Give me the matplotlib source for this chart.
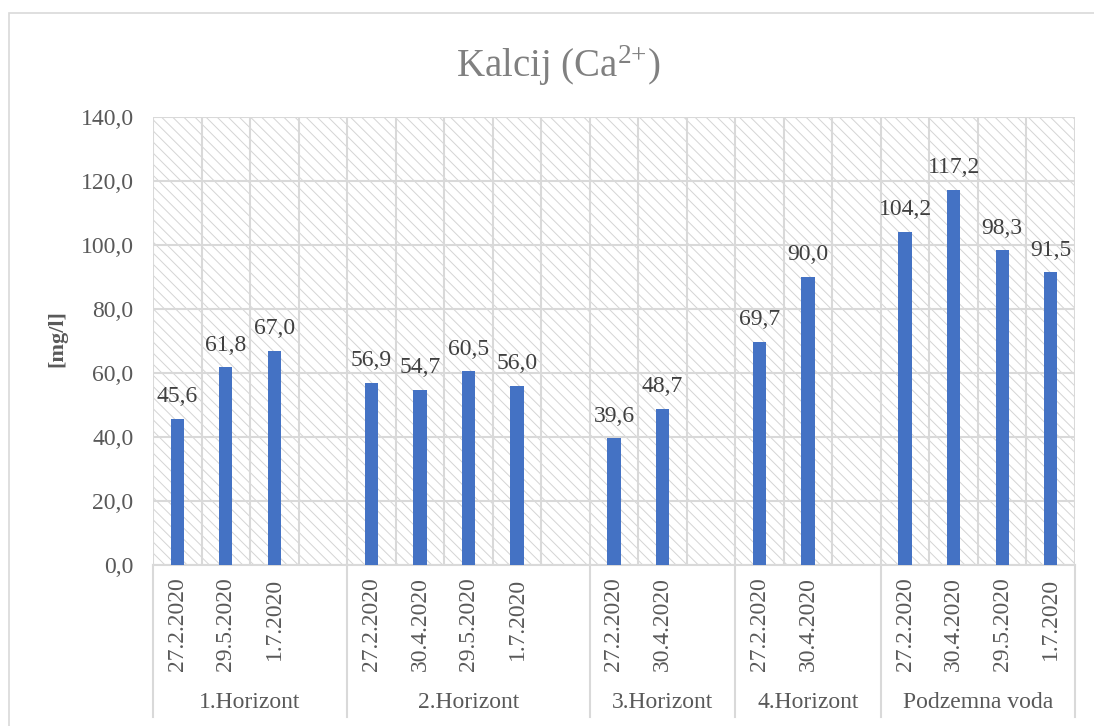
import numpy as np
import matplotlib
matplotlib.use('Agg')
import matplotlib.pyplot as plt
from matplotlib.patches import Rectangle
from matplotlib.transforms import blended_transform_factory

plt.rcParams['font.family'] = ['Liberation Serif', 'DejaVu Serif']
plt.rcParams['mathtext.fontset'] = 'custom'
plt.rcParams['mathtext.rm'] = 'Liberation Serif'
plt.rcParams['hatch.linewidth'] = 0.7

# data (empty strings / None = empty slot in the category axis)
groups = ['1.Horizont', '2.Horizont', '3.Horizont', '4.Horizont', 'Podzemna voda']
group_sizes = [4, 5, 3, 3, 4]
dates = ['27.2.2020', '29.5.2020', '1.7.2020', '',
         '27.2.2020', '30.4.2020', '29.5.2020', '1.7.2020', '',
         '27.2.2020', '30.4.2020', '',
         '27.2.2020', '30.4.2020', '',
         '27.2.2020', '30.4.2020', '29.5.2020', '1.7.2020']
values = [45.6, 61.8, 67.0, None,
          56.9, 54.7, 60.5, 56.0, None,
          39.6, 48.7, None,
          69.7, 90.0, None,
          104.2, 117.2, 98.3, 91.5]
y_ticks = [0, 20, 40, 60, 80, 100, 120, 140]

grid_c = '#d9d9d9'
text_c = '#595959'

fig = plt.figure(figsize=(10.94, 7.26), dpi=100)
ax = fig.add_axes([153/1094, 1-565/726, 922/1094, 448/726])

# chart border
fig.patches.append(Rectangle((9/1094, -0.05), 1.2, 1-13/726+0.05, transform=fig.transFigure,
                             fill=False, edgecolor=grid_c, lw=1.2))

n = len(dates)
ax.set_xlim(-0.5, n-0.5)
ax.set_ylim(0, 140)

# hatched plot area
ax.add_patch(Rectangle((0, 0), 1, 1, transform=ax.transAxes, facecolor='white',
                       edgecolor='#d4d4d4', hatch='\\\\\\', lw=0, zorder=0))

# grid: horizontal at ticks, vertical at slot boundaries
for y in y_ticks:
    ax.axhline(y, color=grid_c, lw=1.5, zorder=1)
for b in np.arange(-0.5, n, 1.0):
    ax.axvline(b, color=grid_c, lw=1.5, zorder=1)

xs = [i for i, v in enumerate(values) if v is not None]
vs = [v for v in values if v is not None]
ax.bar(xs, vs, width=0.275, color='#4472C4', zorder=3)
for x, v in zip(xs, vs):
    ax.annotate(f'{v:.1f}'.replace('.', ','), (x, v), xytext=(0, 12), textcoords='offset points',
                ha='center', va='baseline', fontsize=17, color='#404040', zorder=4)

for s in ['top', 'right', 'left']:
    ax.spines[s].set_visible(False)
ax.spines['bottom'].set_color(grid_c)
ax.spines['bottom'].set_linewidth(1.5)

ax.set_yticks(y_ticks)
ax.set_yticklabels([f'{t:.1f}'.replace('.', ',') for t in y_ticks], fontsize=17, color=text_c)
ax.set_xticks(range(n))
ax.set_xticklabels(dates, rotation=90, fontsize=17, color=text_c, va='top')
ax.tick_params(axis='both', length=0)
ax.tick_params(axis='y', pad=14)
ax.tick_params(axis='x', pad=9)

# group level of the category axis
trans = blended_transform_factory(ax.transData, ax.transAxes)
edges = np.concatenate([[0], np.cumsum(group_sizes)]) - 0.5
for e in edges:
    ax.plot([e, e], [0, -(717-565)/448], transform=trans, color=grid_c, lw=1.5, clip_on=False)
for g, a, b in zip(groups, edges[:-1], edges[1:]):
    ax.text((a+b)/2, -(703-565)/448, g, transform=trans, ha='center', va='center',
            fontsize=17, color=text_c)

fig.text(558/1094, 1-66/726, 'Kalcij (Ca$\\mathregular{^{2{+}}}$)', ha='center', va='center',
         fontsize=28, color='#808080')
fig.text(57/1094, 1-339/726, '[mg/l]', rotation=90, ha='center', va='center',
         fontsize=16, fontweight='bold', color=text_c)

fig.savefig('out.png', dpi=100)
